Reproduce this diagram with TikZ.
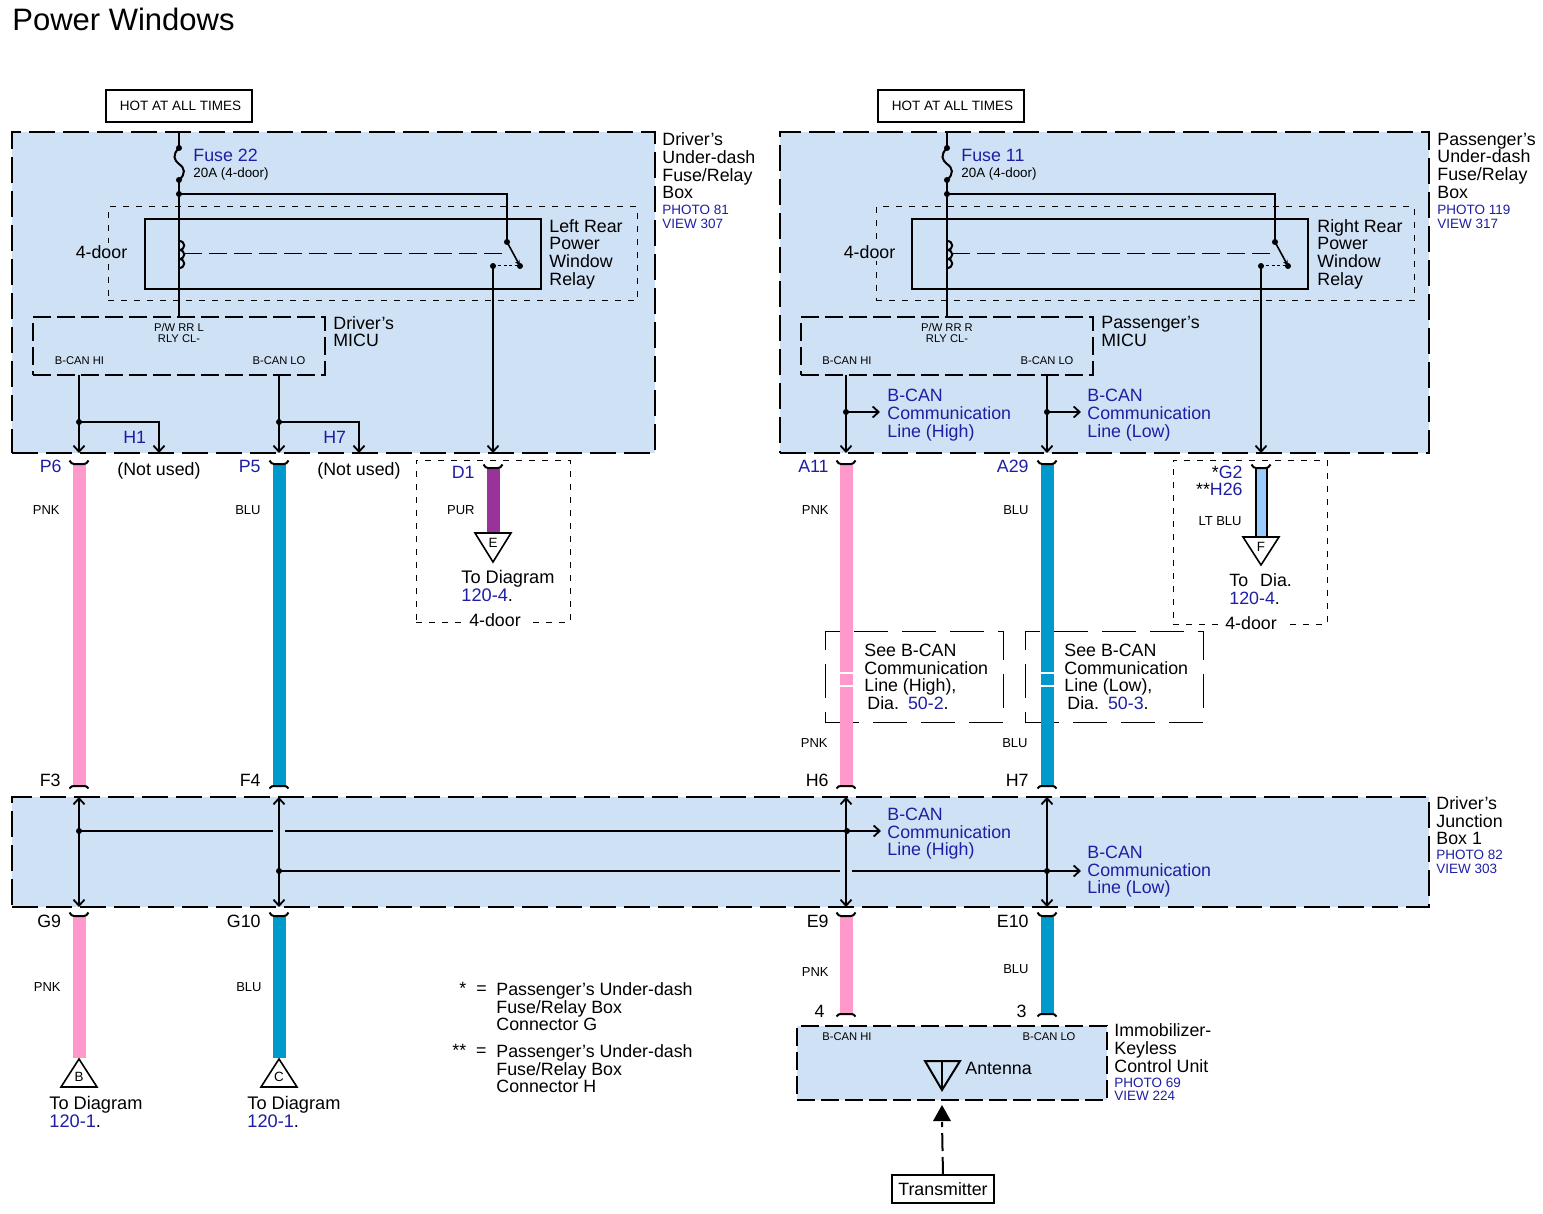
\documentclass[tikz,border=0pt]{standalone}
\usepackage{fontspec}
\setmainfont{Liberation Sans}
\usetikzlibrary{arrows.meta,positioning}
\definecolor{boxblue}{HTML}{CFE1F4}
\definecolor{linkblue}{HTML}{1E1EA4}
\definecolor{pnkwire}{HTML}{FF99CC}
\definecolor{bluwire}{HTML}{0099CC}
\definecolor{purwire}{HTML}{993399}
\definecolor{ltbwire}{HTML}{99CCFF}
\newcommand{\lnk}[1]{\textcolor{linkblue}{#1}}
\tikzset{
	unitbox/.style={draw,fill=boxblue,line width=1.3pt,dash pattern=on 13pt off 4pt,inner sep=0pt,outer sep=0pt},
	relaybox/.style={draw,line width=1.4pt,inner sep=0pt,outer sep=0pt},
	namebox/.style={draw,fill=white,line width=.8pt,inner sep=0pt,outer sep=0pt},
	optbox/.style={draw,line width=.5pt,dash pattern=on 3pt off 3.5pt,inner sep=0pt,outer sep=0pt},
	seebox/.style={draw,line width=.5pt,dash pattern=on 17pt off 7pt,inner sep=0pt,outer sep=0pt},
	wire/.style={line width=1pt},
	wirearrow/.style={wire,-{Straight Barb[length=3pt,width=5.5pt,line width=.9pt]}},
	bothways/.style={wire,{Straight Barb[length=3pt,width=5.5pt,line width=.9pt]}-{Straight Barb[length=3pt,width=5.5pt,line width=.9pt]}},
	wirebar/.style={line width=6.5pt},
	wiredot/.style={circle,fill=black,inner sep=0pt,minimum size=3pt},
	txt/.style={font=\fontsize{8.9}{8.85}\selectfont,align=left,anchor=north west,inner sep=0pt},
	bluetxt/.style={txt,text=linkblue},
	smalltxt/.style={font=\fontsize{6.75}{6.6}\selectfont,align=left,anchor=north west,inner sep=0pt,text=linkblue},
	pinname/.style={font=\fontsize{5.6}{5.2}\selectfont,align=center,inner sep=0pt},
	connlbl/.style={font=\fontsize{8.9}{8.85}\selectfont,anchor=base east,inner sep=0pt},
	colorlbl/.style={font=\fontsize{6.5}{6.5}\selectfont,anchor=base east,inner sep=0pt},
	triletter/.style={font=\fontsize{6.7}{6.7}\selectfont,inner sep=0pt},
	conntop/.pic={\draw[line width=1pt] (-9.5,-3.5) .. controls (-8,-1) and (-7,0) .. (-5,0) -- (5,0) .. controls (7,0) and (8,-1) .. (9.5,-3.5);},
	connbot/.pic={\draw[line width=1pt] (-9.5,2.5) .. controls (-8,.5) and (-7,0) .. (-5,0) -- (5,0) .. controls (7,0) and (8,.5) .. (9.5,2.5);}
}
\begin{document}
\begin{tikzpicture}[x=.5pt,y=-.5pt]
	\useasboundingbox (0,0) rectangle (1543,1214);
	% title
	\node[font=\fontsize{15.5}{16}\selectfont,anchor=base west,inner sep=0pt] (title) at (12,31) {Power Windows};
	% supply labels
	\node[namebox,font=\fontsize{6.75}{7}\selectfont,minimum width=73pt,minimum height=16pt] (hot1) at (179,106) {\hspace*{1.5pt}HOT AT ALL TIMES};
	\node[namebox,font=\fontsize{6.75}{7}\selectfont,minimum width=73pt,minimum height=16pt] (hot2) at (951,106) {\hspace*{1.5pt}HOT AT ALL TIMES};
	% blue units
	\node[unitbox,minimum width=321.5pt,minimum height=160.5pt] (drvbox) at (333.5,292.5) {};
	\node[unitbox,minimum width=324.5pt,minimum height=160.5pt] (psgbox) at (1104.5,292.5) {};
	\node[unitbox,minimum width=708.5pt,minimum height=55pt] (jctbox) at (720.5,852) {};
	\node[unitbox,dash pattern=on 9pt off 3pt,minimum width=155pt,minimum height=37pt] (immbox) at (952,1063) {};
	\node[unitbox,dash pattern=on 9pt off 3pt,minimum width=146pt,minimum height=29pt] (micu1) at (179,346) {};
	\node[unitbox,dash pattern=on 9pt off 3pt,minimum width=146pt,minimum height=29pt] (micu2) at (947,346) {};
	% optional parts
	\node[optbox,minimum width=264.5pt,minimum height=47pt] (opt1) at (372.5,254) {};
	\node[optbox,minimum width=269pt,minimum height=47pt] (opt2) at (1145,254) {};
	\node[relaybox,minimum width=198pt,minimum height=35pt] (relay1) at (343,254) {};
	\node[relaybox,minimum width=198pt,minimum height=35pt] (relay2) at (1110,254) {};
	\node[optbox,minimum width=77pt,minimum height=81pt] (optE) at (493,541) {};
	\node[optbox,minimum width=77pt,minimum height=82pt] (optF) at (1250,542) {};
	\node[seebox,minimum width=89pt,minimum height=45.5pt] (see1) at (914,676.5) {};
	\node[seebox,minimum width=89pt,minimum height=45.5pt] (see2) at (1114,676.5) {};
	\node[font=\fontsize{8.9}{8.85}\selectfont,fill=boxblue,inner sep=1pt] (door1) at (101.5,252) {4-door};
	\node[font=\fontsize{8.9}{8.85}\selectfont,fill=boxblue,inner sep=1pt] (door2) at (869.5,252) {4-door};
	\node[font=\fontsize{8.9}{8.85}\selectfont,fill=white,inner sep=3pt] (doorE) at (495,620) {4-door};
	\node[font=\fontsize{8.9}{8.85}\selectfont,fill=white,inner sep=3pt] (doorF) at (1251,623) {4-door};
	% wire harness
	\foreach \barname/\barx/\bartop/\barbot/\barcol in {p6/79/464/786/pnkwire,p5/279/464/786/bluwire,d1/493/468/533/purwire,a11/846/464/786/pnkwire,a29/1047/464/786/bluwire,g9/79/916/1058/pnkwire,g10/279/916/1058/bluwire,e9/846/916/1014/pnkwire,e10/1047/916/1014/bluwire}{
		\coordinate (\barname-a) at (\barx,\bartop);
		\coordinate (\barname-b) at (\barx,\barbot);
		\draw[wirebar,draw=\barcol] (\barname-a) -- (\barname-b);
	}
	\coordinate (g2-a) at (1261,468);
	\coordinate (g2-b) at (1261,537);
	\draw[line width=1pt,double=ltbwire,double distance=4.5pt] (g2-a) -- (g2-b);
	% breaks in the harness
	\foreach \breaky in {673,686}{
		\draw[white,line width=1pt] (839,\breaky) -- (853,\breaky);
		\draw[white,line width=1pt] (1040,\breaky) -- (1054,\breaky);
	}
	% connector marks
	\foreach \markname in {p6,p5,d1,a11,a29,g2,g9,g10,e9,e10}{
		\pic at (\markname-a) {conntop};
	}
	\foreach \markname in {p6,p5,a11,a29,e9,e10}{
		\pic at (\markname-b) {connbot};
	}
	% triangles
	\node[triletter] (triE) at (493,543) {E};
	\node[triletter] (triF) at (1261,547) {F};
	\node[triletter] (triB) at (79,1077) {B};
	\node[triletter] (triC) at (279,1077) {C};
	\draw[line width=.8pt,fill=none] (475,533) -- (511,533) -- (493,562) -- cycle;
	\draw[line width=.8pt] (1243,537) -- (1279,537) -- (1261,565) -- cycle;
	\draw[line width=.8pt] (61,1087) -- (97,1087) -- (79,1059) -- cycle;
	\draw[line width=.8pt] (261,1087) -- (297,1087) -- (279,1059) -- cycle;
	% fuses and relay contacts, same drawing on both sides
	\foreach \side/\sx in {1/0,2/768}{
		\coordinate (topw\side) at (179+\sx,132);
		\node[wiredot] (fusea\side) at (179+\sx,148) {};
		\node[wiredot] (fuseb\side) at (179+\sx,180) {};
		\node[wiredot] (tap\side) at (179+\sx,194) {};
		\node[wiredot] (cona\side) at (507+\sx,242) {};
		\node[wiredot] (conb\side) at (520+\sx,266) {};
		\node[wiredot] (conc\side) at (493+\sx,266) {};
		\coordinate (corner\side) at (507+\sx,194);
		\coordinate (coil\side) at (184+\sx,254);
		\coordinate (armend\side) at (505+\sx,254);
		\draw[wire] (topw\side) -- (fusea\side.center);
		\draw[wire] (fusea\side.center) .. controls (172+\sx,155) and (174+\sx,160) .. (179+\sx,164) .. controls (185+\sx,168) and (186+\sx,174) .. (fuseb\side.center);
		\draw[wire] (fuseb\side.center) -- (tap\side.center) -- (micu\side.north);
		\draw[wire] (tap\side.center) -- (corner\side) -- (cona\side.center);
		\foreach \coily in {241,250,259}{
			\draw[wire] (179+\sx,\coily) .. controls (186+\sx,\coily) and (186+\sx,\coily+9) .. (179+\sx,\coily+9);
		}
		\draw[line width=.5pt,dash pattern=on 9pt off 3.5pt] (coil\side) -- (armend\side);
		\draw[line width=.8pt,-{Stealth[length=3pt,width=2.5pt]}] (cona\side.center) -- (conb\side.center);
		\draw[line width=.5pt,dash pattern=on 1.5pt off 1.2pt] (conc\side.center) -- (conb\side.center);
	}
	\coordinate (wd1) at (493,453);
	\coordinate (wg2) at (1261,453);
	\draw[wirearrow] (conc1.center) -- (wd1);
	\draw[wirearrow] (conc2.center) -- (wg2);
	% can lines out of the MICUs
	\foreach \wirex/\wname in {79/hi1,279/lo1,846/hi2,1047/lo2}{
		\coordinate (\wname-a) at (\wirex,375);
		\coordinate (\wname-b) at (\wirex,453);
		\draw[wirearrow] (\wname-a) -- (\wname-b);
	}
	\foreach \wirex/\wname in {79/nua,279/nub}{
		\node[wiredot] (\wname-d) at (\wirex,422) {};
		\coordinate (\wname-c) at (\wirex+80,422);
		\coordinate (\wname-e) at (\wirex+80,453);
		\draw[wirearrow] (\wname-d.center) -- (\wname-c) -- (\wname-e);
	}
	\foreach \wirex/\wname in {846/cana,1047/canb}{
		\node[wiredot] (\wname-d) at (\wirex,412) {};
		\coordinate (\wname-e) at (\wirex+34,412);
		\draw[wirearrow] (\wname-d.center) -- (\wname-e);
	}
	% junction box
	\foreach \wirex/\wname in {79/ja,279/jb,846/jc,1047/jd}{
		\coordinate (\wname-a) at (\wirex,797);
		\coordinate (\wname-b) at (\wirex,907);
		\draw[bothways] (\wname-a) -- (\wname-b);
	}
	\node[wiredot] (hi-l) at (79,831) {};
	\node[wiredot] (hi-r) at (847,831) {};
	\coordinate (hi-gapa) at (273,831);
	\coordinate (hi-gapb) at (285,831);
	\coordinate (hi-e) at (881,831);
	\draw[wire] (hi-l.center) -- (hi-gapa);
	\draw[wire] (hi-gapb) -- (hi-r.center);
	\draw[wirearrow] (hi-r.center) -- (hi-e);
	\node[wiredot] (lo-l) at (279,871) {};
	\node[wiredot] (lo-r) at (1047,871) {};
	\coordinate (lo-gapa) at (840,871);
	\coordinate (lo-gapb) at (852,871);
	\coordinate (lo-e) at (1081,871);
	\draw[wire] (lo-l.center) -- (lo-gapa);
	\draw[wire] (lo-gapb) -- (lo-r.center);
	\draw[wirearrow] (lo-r.center) -- (lo-e);
	% antenna and transmitter
	\coordinate (anta) at (925,1061);
	\coordinate (antb) at (960,1061);
	\coordinate (antc) at (942,1090);
	\coordinate (antd) at (942,1061);
	\draw[line width=1pt] (anta) -- (antb) -- (antc) -- cycle;
	\draw[line width=1pt] (antd) -- (antc);
	\node[namebox,font=\fontsize{8.9}{8.85}\selectfont,minimum width=51pt,minimum height=14pt] (txbox) at (943,1189) {Transmitter};
	\coordinate (txtip) at (942,1105);
	\draw[line width=1pt,dash pattern=on 9pt off 3pt] (txbox.north) -- (942,1122);
	\fill (txtip) -- (951,1121) -- (933,1121) -- cycle;
	% unit names
	\node[txt] (drvname) at (662,132.5) {Driver’s\\Under-dash\\Fuse/Relay\\Box};
	\node[smalltxt] (drvphoto) at (662,205) {PHOTO 81\\VIEW 307};
	\node[txt] (psgname) at (1437,132.5) {Passenger’s\\Under-dash\\Fuse/Relay\\Box};
	\node[smalltxt] (psgphoto) at (1437,205) {PHOTO 119\\VIEW 317};
	\node[txt] (rel1name) at (549,219) {Left Rear\\Power\\Window\\Relay};
	\node[txt] (rel2name) at (1317,219) {Right Rear\\Power\\Window\\Relay};
	\node[txt] (micu1name) at (333,316) {Driver’s\\MICU};
	\node[txt] (micu2name) at (1101,316) {Passenger’s\\MICU};
	\node[txt] (jctname) at (1436,796) {Driver’s\\Junction\\Box 1};
	\node[smalltxt] (jctphoto) at (1436,850) {PHOTO 82\\VIEW 303};
	\node[txt] (immname) at (1114,1023.5) {Immobilizer-\\Keyless\\Control Unit};
	\node[smalltxt] (immphoto) at (1114,1077.5) {PHOTO 69\\VIEW 224};
	\node[txt,anchor=west] (antname) at (965,1068) {Antenna};
	% fuses
	\node[bluetxt] (fuse1) at (193,149) {Fuse 22};
	\node[font=\fontsize{6.7}{6.7}\selectfont,anchor=north west,inner sep=0pt] (amps1) at (193,167) {20A (4-door)};
	\node[bluetxt] (fuse2) at (961,149) {Fuse 11};
	\node[font=\fontsize{6.7}{6.7}\selectfont,anchor=north west,inner sep=0pt] (amps2) at (961,167) {20A (4-door)};
	% pin names
	\node[pinname] (pwr1) at (179,333) {P/W RR L\\RLY CL-};
	\node[pinname] (pwr2) at (947,333) {P/W RR R\\RLY CL-};
	\foreach \pinid/\pinx/\piny/\pintext in {ph1/79.5/360.5/B-CAN HI,pl1/279/360.5/B-CAN LO,ph2/847/360.5/B-CAN HI,pl2/1047/360.5/B-CAN LO,ph3/847/1037/B-CAN HI,pl3/1049/1037/B-CAN LO}{
		\node[pinname] (\pinid) at (\pinx,\piny) {\pintext};
	}
	% connector numbers
	\foreach \lblid/\lblx/\lbly/\lbltext in {lp6/62/473/P6,lp5/261/473/P5,lh1/146.5/444/H1,lh7/346.5/444/H7,ld1/475/478/D1,la11/829/473/A11,la29/1029/473/A29}{
		\node[connlbl,text=linkblue] (\lblid) at (\lblx,\lbly) {\lbltext};
	}
	\foreach \lblid/\lblx/\lbly/\lbltext in {lf3/61/786/F3,lf4/261/786/F4,lh6/829/786/H6,lh7b/1029/786/H7,lg9/61.5/927/G9,lg10/261/927/G10,le9/829/927/E9,le10/1029/927/E10,lfour/825/1017/4,lthree/1027/1017/3}{
		\node[connlbl] (\lblid) at (\lblx,\lbly) {\lbltext};
	}
	\node[connlbl] (lg2) at (1243,478) {*\lnk{G2}};
	\node[connlbl] (lh26) at (1243,495) {**\lnk{H26}};
	\node[txt] (nu1) at (117,462) {(Not used)};
	\node[txt] (nu2) at (317,462) {(Not used)};
	% wire colours
	\foreach \lblid/\lblx/\lbly/\lbltext in {c1/60/514/PNK,c2/261/514/BLU,c3/475/514/PUR,c4/1242/525/LT BLU,c5/829/514/PNK,c6/1029/514/BLU,c7/828/747/PNK,c8/1028/747/BLU,c9/61/991/PNK,c10/262/991/BLU,c11/829/976/PNK,c12/1029/973/BLU}{
		\node[colorlbl] (\lblid) at (\lblx,\lbly) {\lbltext};
	}
	% can line labels
	\node[bluetxt] (can1) at (887,389) {B-CAN\\Communication\\Line (High)};
	\node[bluetxt] (can2) at (1087,389) {B-CAN\\Communication\\Line (Low)};
	\node[bluetxt] (can3) at (887,807.5) {B-CAN\\Communication\\Line (High)};
	\node[bluetxt] (can4) at (1087,845.5) {B-CAN\\Communication\\Line (Low)};
	\node[txt] (seetxt1) at (864,643.5) {See B-CAN\\Communication\\Line (High),\\\hspace*{1.5pt}Dia.\hspace{4.5pt}\lnk{50-2}.};
	\node[txt] (seetxt2) at (1064,643.5) {See B-CAN\\Communication\\Line (Low),\\\hspace*{1.5pt}Dia.\hspace{4.5pt}\lnk{50-3}.};
	% diagram references
	\node[txt,font=\fontsize{9.1}{8.85}\selectfont] (toE) at (461,570) {To Diagram\\\lnk{120-4}.};
	\node[txt] (toF) at (1229,573) {To\hspace{6pt}Dia.\\\lnk{120-4}.};
	\node[txt,font=\fontsize{9.1}{8.85}\selectfont] (toB) at (49,1096) {To Diagram\\\lnk{120-1}.};
	\node[txt,font=\fontsize{9.1}{8.85}\selectfont] (toC) at (247,1096) {To Diagram\\\lnk{120-1}.};
	% notes
	\node[connlbl,anchor=base west] (star1) at (459,994) {*\hspace{5pt}=};
	\node[txt] (note1) at (496,982) {Passenger’s Under-dash\\Fuse/Relay Box\\Connector G};
	\node[connlbl,anchor=base west] (star2) at (452,1056) {**\hspace{5pt}=};
	\node[txt] (note2) at (496,1044) {Passenger’s Under-dash\\Fuse/Relay Box\\Connector H};
\end{tikzpicture}
\end{document}
